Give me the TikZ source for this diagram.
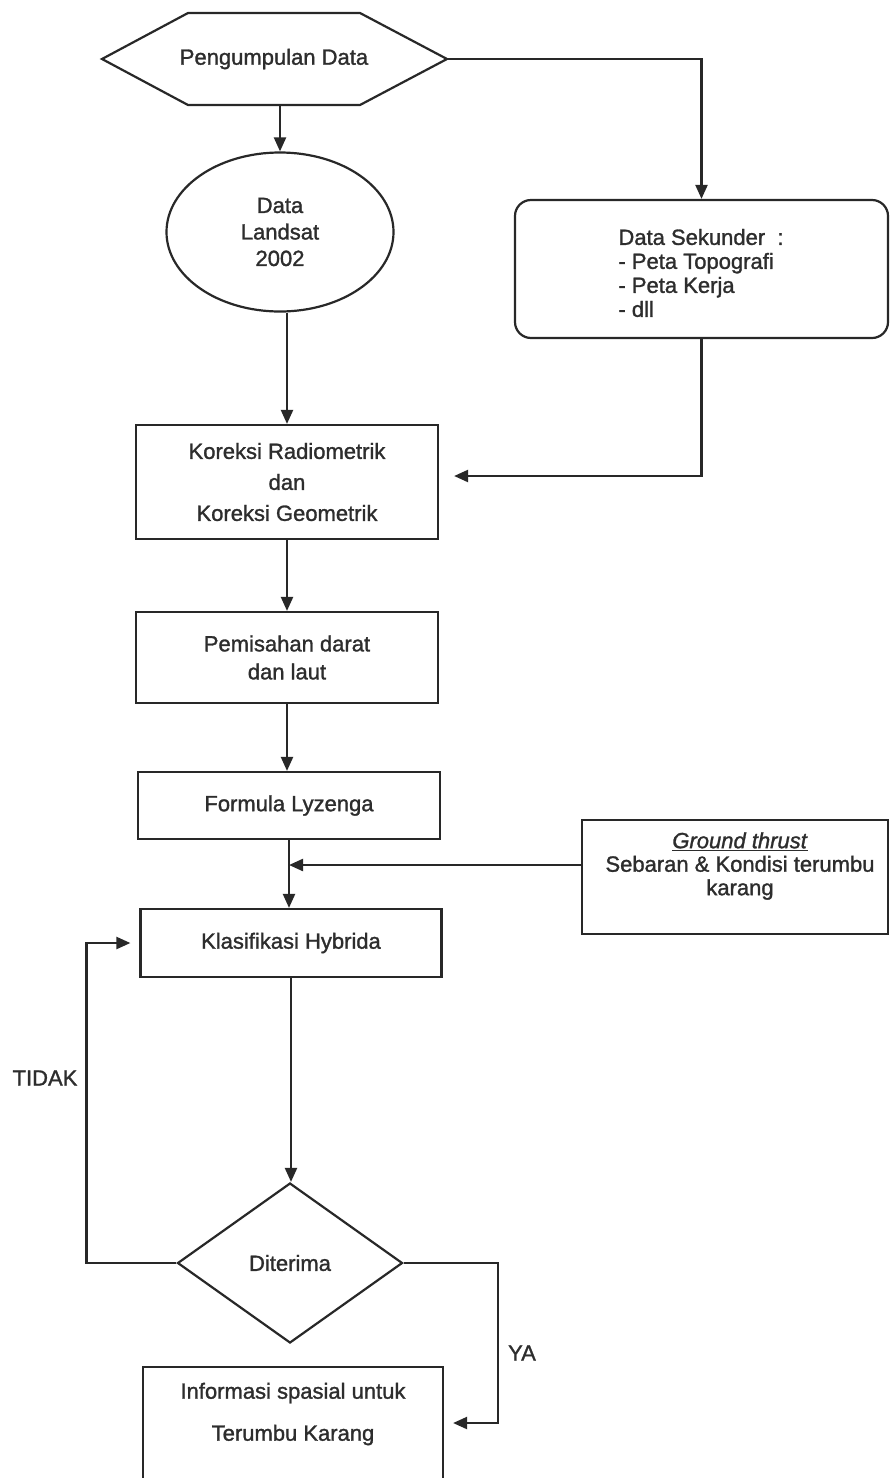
\documentclass[tikz,border=0pt]{standalone}
\usepackage{fontspec}
\setmainfont{Liberation Sans}[FakeBold=1.3]
\usetikzlibrary{shapes.geometric,arrows.meta,calc}
\definecolor{ink}{RGB}{40,40,40}
\definecolor{txt}{RGB}{45,45,45}
\begin{document}
\begin{tikzpicture}[x=1pt,y=-1pt,
  line width=2.2pt,
  box/.style={draw=ink, line width=2.2pt, rectangle, inner sep=0pt, text=txt, align=center},
  lbl/.style={text=txt, inner sep=0pt, align=center},
  arr/.style={draw=ink, line width=2.2pt, -{Triangle[length=14pt,width=12pt]}},
  f31/.style={font=\fontsize{22}{31}\selectfont},
  f28/.style={font=\fontsize{22}{28}\selectfont},
  f26/.style={font=\fontsize{22}{26.5}\selectfont},
  f24/.style={font=\fontsize{22}{24}\selectfont},
  f23/.style={font=\fontsize{22}{23.5}\selectfont},
  f42/.style={font=\fontsize{22}{42}\selectfont}
]
\useasboundingbox (0,0) rectangle (889,1478);
\fill[white] (0,0) rectangle (889,1478);

% hexagon
\node[lbl,f26] (hex) at (274,59) {Pengumpulan Data};
\draw[ink] ($(hex.center)+(-86,-46)$) -- ($(hex.center)+(86,-46)$)
  -- ($(hex.center)+(173,0)$) coordinate (hexR)
  -- ($(hex.center)+(86,46)$) coordinate (hexSE)
  -- ($(hex.center)+(-86,46)$)
  -- ($(hex.center)+(-172,0)$) -- cycle;
\coordinate (hexS) at ($(hex.center)+(0,46)$);

% ellipse
\node[ellipse, draw=ink, line width=2.2pt, minimum width=227, minimum height=159, inner sep=0pt, text=txt, align=center, f26] (ell) at (280,232) {Data\\Landsat\\2002};

% data sekunder
\node[box, rounded corners=16pt, minimum width=373, minimum height=138] (sek) at (701.5,269) {};
\node[lbl, align=left, f24] (sektext) at (701,273) {Data Sekunder~ :\\- Peta Topografi\\- Peta Kerja\\- dll};

% main column
\node[box, f31, minimum width=302, minimum height=114] (kor) at (287,482) {Koreksi Radiometrik\\dan\\Koreksi Geometrik};
\node[box, f28, minimum width=302, minimum height=91] (pem) at (287,657.5) {Pemisahan darat\\dan laut};
\node[box, f26, minimum width=302, minimum height=67] (lyz) at (289,805.5) {Formula Lyzenga};
\node[box, f26, minimum width=301, minimum height=68] (kla) at (291,943) {Klasifikasi Hybrida};

% ground thrust
\node[box, minimum width=306, minimum height=114] (gro) at (735,877) {};
\node[lbl, f23] (grotext) at (740,866) {\underline{\textit{Ground thrust}}\\Sebaran \& Kondisi terumbu\\karang};

% decision
\node[diamond, draw=ink, line width=2.2pt, minimum width=225, minimum height=160, inner sep=0pt, text=txt, f26] (dia) at (290,1263) {Diterima};

% final
\node[box, minimum width=300, minimum height=130, anchor=north] (fin) at (293,1366) {};
\node[lbl, f42] (fintext) at (293,1414) {Informasi spasial untuk\\Terumbu Karang};

% labels
\node[lbl, f26] (tidak) at (45,1078) {TIDAK};
\node[lbl, f26] (ya) at (522,1353) {YA};

% connectors
\draw[arr] (ell.north |- hexS) -- (ell.north);
\draw[arr] (hexR) -| (sek.north);
\draw[arr] (kor.north |- ell.south) -- (kor.north);
\draw[arr] (sek.south) |- ($(kor.east)+(15,-6)$);
\draw[arr] (kor.south) -- (pem.north);
\draw[arr] (pem.south) -- (pem.south |- lyz.north);
\draw[arr] (lyz.south) -- (lyz.south |- kla.north);
\coordinate (gin) at ($(gro.west)+(0,-12)$);
\draw[arr] (gin) -- (gin -| lyz.south);
\draw[arr] (kla.south) -- (kla.south |- dia.north);
\draw[arr] (dia.west) -- ++(-90,0) |- ($(kla.west)+(-9,0)$);
\draw[arr] (dia.east) -- ++(94,0) |- ($(fin.north east)+(9,57)$);
\end{tikzpicture}
\end{document}
